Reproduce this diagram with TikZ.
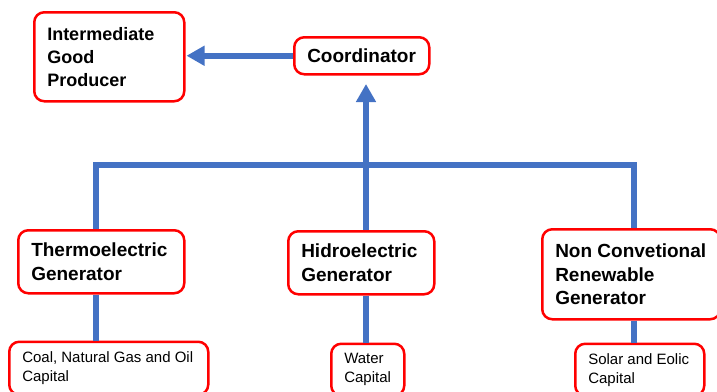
\documentclass[tikz,border=0pt]{standalone}
\usepackage{fontspec}
\setmainfont{Liberation Sans}
\usetikzlibrary{arrows.meta}
\definecolor{boxred}{HTML}{FF0000}
\definecolor{linkblue}{HTML}{4472C4}
\begin{document}
\begin{tikzpicture}[x=1pt,y=-1pt,
  box/.style={draw=boxred, fill=white, line width=2.5pt, rounded corners=10pt,
    align=flush left, inner xsep=13pt, inner ysep=0pt, anchor=north west,
    execute at begin node={\hyphenpenalty=10000\exhyphenpenalty=10000}},
  bigtxt/.style={font=\fontsize{19}{23.5}\selectfont\bfseries},
  smalltxt/.style={font=\fontsize{15}{19}\selectfont},
  link/.style={draw=linkblue, line width=6pt},
  tip/.style={-{Triangle[length=18pt,width=19pt]}}
]
\useasboundingbox (0,0) rectangle (717,391);

\node[box, font=\fontsize{18}{23}\selectfont\bfseries, minimum width=150pt, minimum height=89pt, text width=124pt]
  (igp) at (33,11) {Intermediate\\Good\\Producer};
\node[box, bigtxt, minimum width=135pt, minimum height=37pt, text width=109pt]
  (coord) at (293,36) {\mbox{Coordinator}};
\node[box, bigtxt, minimum width=166pt, minimum height=63pt, text width=140pt]
  (thermo) at (17,229) {\mbox{Thermoelectric}\\Generator};
\node[box, bigtxt, minimum width=146pt, minimum height=63pt, text width=120pt]
  (hidro) at (287,230) {\mbox{Hidroelectric}\\Generator};
\node[box, bigtxt, minimum width=178pt, minimum height=90pt, text width=152pt]
  (nonconv) at (541,228) {\mbox{Non Convetional}\\Renewable\\Generator};
\node[box, smalltxt, minimum width=199pt, minimum height=53pt, text width=173pt]
  (coal) at (8,340.5) {\mbox{Coal, Natural Gas and Oil}\\Capital};
\node[box, smalltxt, minimum width=73pt, minimum height=52pt, text width=47pt]
  (water) at (330,342.5) {\mbox{Water}\\\mbox{Capital}};
\node[box, smalltxt, minimum width=129pt, minimum height=52pt, text width=103pt]
  (solar) at (574,342.5) {\mbox{Solar and Eolic}\\Capital};

\coordinate (jl) at (96,165);
\coordinate (j) at (366,165);
\coordinate (jr) at (634,165);

\draw[link] (jl |- thermo.north) -- (jl) -- (jr) -- (jr |- nonconv.north);
\draw[link] (j) -- (j |- hidro.north);
\draw[link, tip] (j) -- ([yshift=-8.5pt]j |- coord.south);
\draw[link, tip, shorten >=1pt] (coord.west) -- (igp.east |- coord.west);

\draw[link] (jl |- thermo.south) -- (jl |- coal.north);
\draw[link] (j |- hidro.south) -- (j |- water.north);
\draw[link] (jr |- nonconv.south) -- (jr |- solar.north);
\end{tikzpicture}
\end{document}
